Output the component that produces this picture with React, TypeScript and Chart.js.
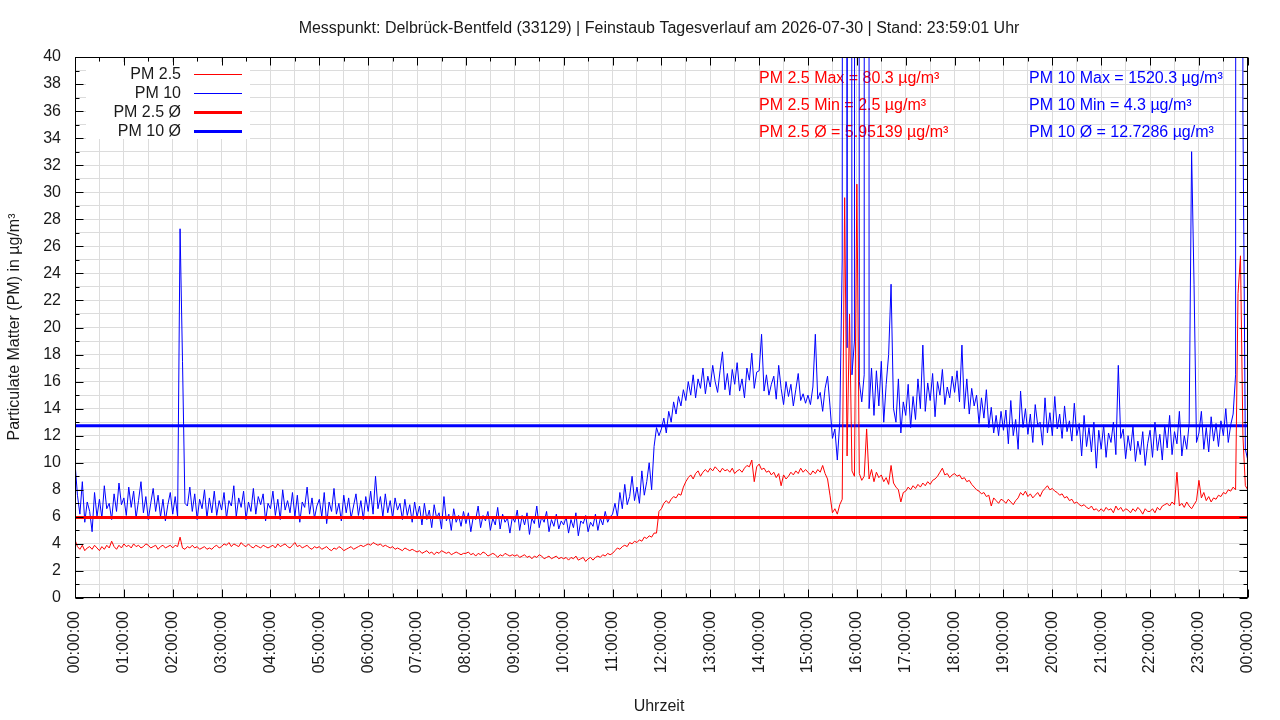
import React, { useEffect, useRef } from "react";
import { Chart, registerables } from "chart.js";

Chart.register(...registerables);

const FONT = '"Liberation Sans", Arial, sans-serif';
const TEXT = "#1a1a1a";
const GRID = "#dcdcdc";
const RED = "#ff0000";
const BLUE = "#0000ff";

const TITLE =
  "Messpunkt: Delbrück-Bentfeld (33129) | Feinstaub Tagesverlauf am 2026-07-30 | Stand: 23:59:01 Uhr";
const X_TITLE = "Uhrzeit";
const Y_TITLE = "Particulate Matter (PM) in µg/m³";

const SERIES_LABELS = ["PM 2.5", "PM 10", "PM 2.5 Ø", "PM 10 Ø"];
const PM25_AVG = 5.95139;
const PM10_AVG = 12.7286;
const PM25_STATS = ["PM 2.5 Max = 80.3 µg/m³", "PM 2.5 Min = 2.5 µg/m³", "PM 2.5 Ø = 5.95139 µg/m³"];
const PM10_STATS = ["PM 10 Max = 1520.3 µg/m³", "PM 10 Min = 4.3 µg/m³", "PM 10 Ø = 12.7286 µg/m³"];

const HOUR_LABELS = [
  "00:00:00", "01:00:00", "02:00:00", "03:00:00", "04:00:00", "05:00:00", "06:00:00",
  "07:00:00", "08:00:00", "09:00:00", "10:00:00", "11:00:00", "12:00:00", "13:00:00",
  "14:00:00", "15:00:00", "16:00:00", "17:00:00", "18:00:00", "19:00:00", "20:00:00",
  "21:00:00", "22:00:00", "23:00:00", "00:00:00",
];

// one reading every 3 minutes, 20 per hour, last value at 24:00
const STEP_MIN = 3;

const PM10 = [
  10.0, 7.6, 6.2, 8.6, 5.6, 7.1, 6.4, 4.9, 7.8, 6.0, 7.3, 5.9, 8.3, 6.6, 7.0, 5.8, 7.7, 6.4, 8.5, 6.9,
  7.4, 6.1, 8.2, 6.7, 7.9, 5.9, 7.2, 8.6, 6.3, 7.5, 5.8, 7.0, 8.1, 6.4, 7.6, 6.0, 7.3, 5.7, 6.9, 7.8,
  6.2, 7.5, 6.0, 27.3, 17.5, 7.0, 6.8, 8.2, 6.4, 7.7, 5.8, 7.3, 6.6, 8.0, 5.9, 7.4, 6.3, 7.9, 6.1, 7.2,
  6.5, 7.8, 5.9, 7.2, 6.8, 8.3, 6.0, 7.4, 6.7, 7.9, 5.8, 7.1, 6.4, 8.1, 6.2, 7.5, 6.9, 7.7, 5.7, 7.0,
  6.6, 7.9, 6.1, 7.3, 5.8, 8.0, 6.5, 7.2, 6.3, 7.8, 6.0, 7.6, 5.6, 7.1, 6.7, 8.2, 6.2, 7.4, 5.9, 6.8,
  7.3, 6.0, 7.8, 5.5, 7.1, 6.4, 8.1, 6.2, 7.0, 5.7, 7.6, 6.3, 7.4, 5.9, 6.8, 7.7, 6.1, 7.2, 5.8, 7.5,
  6.4, 7.9, 6.2, 9.0, 6.6, 7.5, 6.0, 7.7, 6.3, 7.2, 5.9, 7.4, 6.5, 7.0, 5.8, 7.3, 6.1, 6.9, 5.6, 7.1,
  6.0, 6.8, 5.4, 7.0, 5.8, 6.5, 5.2, 6.9, 5.9, 6.3, 5.1, 7.5, 5.7, 6.2, 5.0, 6.6, 5.6, 6.1, 5.3, 6.4,
  5.5, 6.3, 4.9, 6.0, 5.8, 6.8, 5.2, 6.1, 5.7, 6.4, 5.0, 5.9, 5.4, 6.7, 5.1, 6.2, 5.6, 5.9, 4.8, 6.0,
  5.6, 6.5, 5.0, 6.1, 5.4, 6.3, 4.7, 5.9, 5.5, 6.8, 5.2, 6.0, 5.6, 6.4, 4.9, 5.8, 5.3, 6.2, 5.1, 5.7,
  5.4, 6.0, 4.8, 5.8, 5.2, 6.3, 4.6, 5.7, 5.5, 6.1, 4.9, 5.6, 5.3, 6.2, 5.0, 5.9, 5.4, 6.4, 5.6, 6.0,
  6.2, 7.0, 6.0, 7.8, 6.6, 8.4, 6.9, 7.5, 9.0, 7.2, 8.2, 7.0, 9.4, 7.6, 8.6, 10.0, 8.0, 11.2, 12.6, 12.0,
  12.5, 13.3, 12.2, 13.8, 13.0, 14.5, 13.6, 14.9, 14.2, 15.4, 14.6, 16.0, 15.0, 16.5, 14.8, 16.2, 15.5, 17.0, 15.1, 16.4,
  15.6, 17.2, 16.0, 15.2, 16.8, 18.2, 15.4, 16.6, 15.0, 16.9, 15.8, 17.4, 15.3, 16.2, 14.8, 17.0, 16.1, 18.1, 15.5, 16.7,
  16.8, 19.5, 15.3, 16.5, 15.0, 15.8, 16.4, 14.7, 17.2, 15.5, 14.3, 16.0, 14.9, 15.8, 14.2, 15.4, 16.6, 14.6, 15.1, 14.4,
  15.0, 14.3, 15.6, 19.5, 14.7, 15.2, 13.8, 15.5, 16.4, 14.2, 11.8, 12.5, 10.2, 13.0, 25.0, 300, 18.5, 300, 16.5, 19.0,
  400, 16.0, 14.5, 16.5, 1520.3, 14.0, 17.0, 13.5, 16.8, 14.2, 17.5, 13.0, 15.8, 18.0, 23.2, 14.0, 13.0, 16.2, 12.2, 14.5,
  13.5, 15.8, 12.6, 14.9, 13.2, 16.2, 14.0, 18.7, 13.8, 15.9, 14.6, 16.6, 13.4, 16.0, 15.0, 16.9, 14.3, 15.6, 14.8, 16.4,
  15.2, 16.8, 14.5, 18.7, 14.0, 16.2, 13.6, 15.5, 14.2, 15.0, 12.9, 14.8, 13.3, 15.4, 12.6, 14.1, 12.2, 13.5, 12.0, 13.8,
  12.4, 13.9, 11.4, 14.6, 12.0, 13.2, 11.0, 15.3, 12.6, 14.0, 12.1, 13.6, 11.5, 14.3, 12.8, 13.0, 11.3, 14.8, 12.2, 13.7,
  12.0, 14.9, 12.5, 13.6, 11.8, 14.2, 12.3, 13.1, 11.6, 14.4, 12.0, 12.9, 10.5, 13.5, 11.2, 12.6, 10.8, 13.0, 9.6, 12.4,
  11.0, 12.8, 10.4, 12.2, 11.5, 13.0, 10.6, 17.2, 11.8, 12.5, 10.3, 12.0, 10.9, 12.7, 10.1, 11.6, 10.6, 12.3, 9.8, 11.4,
  12.4, 10.4, 13.0, 10.9, 12.1, 10.2, 12.8, 11.1, 13.5, 10.6, 12.3, 11.4, 13.8, 10.5, 12.0, 11.0, 12.9, 33.0, 23.2, 11.5,
  12.2, 13.8, 11.0, 12.6, 10.8, 13.4, 11.6, 12.9, 11.2, 13.1, 12.0, 14.0, 11.5, 12.8, 13.6, 16.5, 500, 300, 36.0, 11.0,
  10.2,
];

const PM25 = [
  4.3, 3.8, 3.6, 3.9, 3.5, 3.7, 3.8, 3.6, 3.9, 3.7, 3.5, 3.8, 3.6, 3.9, 3.7, 4.2, 3.8, 3.6, 3.9, 3.7,
  4.0, 3.8, 3.9, 3.7, 4.0, 3.8, 3.9, 3.7, 3.8, 4.0, 3.9, 3.7, 3.8, 3.9, 3.6, 3.8, 3.9, 3.7, 3.8, 3.9,
  3.7, 3.9, 3.8, 4.5, 3.7, 3.6, 3.8, 3.7, 3.9, 3.7, 3.8, 3.6, 3.7, 3.8, 3.6, 3.7, 3.6, 3.8, 3.9, 3.7,
  3.8, 4.0, 3.9, 4.1, 3.8, 4.0, 3.9, 3.8, 4.1, 3.9, 3.8, 4.0, 3.8, 3.7, 3.9, 3.8, 3.7, 3.9, 3.8, 3.7,
  3.8, 3.9, 3.7, 4.0, 3.8, 3.9, 4.0, 3.8, 3.7, 3.9, 4.1, 3.8, 3.9, 3.7, 3.8, 3.9, 3.7, 3.6, 3.8, 3.7,
  3.8, 3.6, 3.7, 3.8, 3.6, 3.5, 3.7, 3.6, 3.8, 3.7, 3.5, 3.6, 3.7, 3.8, 3.6, 3.7, 3.8, 3.9, 3.8, 3.9,
  4.0, 3.9, 4.1, 4.0, 3.9, 4.0, 3.8, 3.9, 3.8, 3.7, 3.8, 3.6, 3.7, 3.6, 3.5, 3.7, 3.6, 3.5, 3.6, 3.5,
  3.4, 3.5, 3.3, 3.4, 3.5, 3.3, 3.4, 3.2, 3.4, 3.3, 3.5, 3.4, 3.3, 3.4, 3.2, 3.3, 3.4, 3.3, 3.2, 3.3,
  3.3, 3.4, 3.2, 3.3, 3.1, 3.3, 3.2, 3.4, 3.3, 3.1, 3.2, 3.3, 3.2, 3.0, 3.2, 3.1, 3.3, 3.2, 3.1, 3.2,
  3.1, 3.2, 3.0, 3.1, 3.2, 3.0, 3.1, 2.9, 3.1, 3.0, 3.2, 3.1, 2.9, 3.0, 3.1, 2.9, 3.0, 3.1, 2.9, 3.0,
  2.9, 3.0, 2.8, 3.0, 2.9, 3.1, 2.8, 2.9, 3.0, 2.7, 2.9, 3.0, 2.8, 3.0, 3.1, 3.0, 3.2, 3.1, 3.3, 3.2,
  3.3, 3.5, 3.7, 3.6, 3.8, 3.9, 3.8, 4.1, 4.0, 4.2, 4.1, 4.3, 4.2, 4.5, 4.4, 4.6, 4.5, 4.8, 4.8, 6.4,
  6.6, 7.0, 7.2, 7.0, 7.3, 7.5, 7.4, 7.7, 7.6, 8.2, 8.6, 8.9, 9.1, 8.8, 9.2, 9.4, 9.0, 9.3, 9.5, 9.3,
  9.6, 9.4, 9.7, 9.5, 9.3, 9.6, 9.4, 9.5, 9.3, 9.6, 9.2, 9.4, 9.5, 9.3, 9.6, 9.8, 9.7, 10.2, 8.6, 9.7,
  9.9, 9.5, 9.6, 9.3, 9.4, 9.1, 9.3, 8.9, 9.2, 8.3, 9.1, 8.8, 9.0, 9.3, 9.1, 9.4, 9.2, 9.6, 9.3, 9.5,
  9.3, 9.1, 9.4, 9.2, 9.5, 9.3, 9.8, 9.2, 8.8, 7.6, 6.3, 6.6, 6.2, 6.9, 7.3, 29.6, 10.5, 21.0, 9.4, 9.0,
  30.6, 9.2, 8.7, 9.0, 12.5, 8.8, 9.5, 8.6, 9.3, 8.9, 9.1, 8.6, 8.9, 8.4, 9.8, 8.5, 8.2, 8.0, 7.1, 7.8,
  7.9, 8.2, 8.0, 8.3, 8.1, 8.4, 8.2, 8.5, 8.3, 8.6, 8.4, 8.7, 8.8, 9.0, 9.3, 9.6, 9.1, 9.2, 8.9, 9.1,
  9.2, 9.0, 9.1, 8.8, 8.9, 8.6, 8.7, 8.4, 8.2, 8.0, 7.9, 7.7, 7.8, 7.5, 7.6, 6.8, 7.4, 7.2, 7.0, 7.3,
  7.2, 7.0, 7.3, 7.1, 6.9, 7.2, 7.4, 7.8, 7.6, 7.9, 7.5, 7.7, 7.4, 7.6, 7.8, 7.5, 7.9, 8.1, 8.3, 8.0,
  8.1, 7.9, 7.8, 7.6, 7.7, 7.4, 7.5, 7.2, 7.3, 7.0, 7.1, 6.9, 6.8, 6.9, 6.7, 6.6, 6.8, 6.5, 6.6, 6.4,
  6.6, 6.4, 6.7, 6.5, 6.6, 6.3, 6.8, 6.5, 6.7, 6.4, 6.6, 6.5, 6.3, 6.6, 6.4, 6.7, 6.5, 6.2, 6.6, 6.4,
  6.4, 6.6, 6.3, 6.7, 6.5, 6.8, 6.9, 7.0, 6.8, 7.1, 6.9, 9.3, 6.8, 7.0, 6.7, 7.1, 6.8, 6.6, 6.9, 7.2,
  8.7, 7.4, 7.8, 7.2, 7.5, 7.1, 7.4, 7.3, 7.6, 7.5, 7.8, 7.7, 8.0, 7.9, 8.2, 8.0, 22.5, 25.3, 12.0, 8.3,
  8.0,
];

const DAY_MIN = 1440;

const toPoints = (values: number[]) => values.map((v, i) => ({ x: i * STEP_MIN, y: v }));
const flat = (v: number) => [
  { x: 0, y: v },
  { x: DAY_MIN, y: v },
];

// gnuplot look: mirrored inward ticks, framed plot, opaque key, free labels
const gnuplotFrame = {
  id: "gnuplotFrame",
  beforeDatasetsDraw(chart: any) {
    const ctx = chart.ctx;
    ctx.save();
    ctx.font = `16px ${FONT}`;
    ctx.textAlign = "left";
    ctx.textBaseline = "middle";
    ctx.fillStyle = RED;
    PM25_STATS.forEach((t, i) => ctx.fillText(t, 759, 79 + i * 27));
    ctx.fillStyle = BLUE;
    PM10_STATS.forEach((t, i) => ctx.fillText(t, 1029, 79 + i * 27));
    ctx.restore();
  },
  afterDatasetsDraw(chart: any) {
    const { ctx, chartArea: a, scales } = chart;
    const L = Math.round(a.left) + 0.5;
    const R = Math.round(a.right) - 0.5;
    const T = Math.round(a.top) + 0.5;
    const B = Math.round(a.bottom) - 0.5;
    ctx.save();

    // key
    ctx.fillStyle = "#ffffff";
    ctx.fillRect(86, 62, 164, 77);
    ctx.font = `16px ${FONT}`;
    ctx.textAlign = "right";
    ctx.textBaseline = "middle";
    chart.data.datasets.forEach((ds: any, i: number) => {
      const yy = 74.5 + i * 19;
      ctx.fillStyle = TEXT;
      ctx.fillText(ds.label, 181, yy);
      ctx.strokeStyle = ds.borderColor;
      ctx.lineWidth = ds.borderWidth;
      const ly = Math.round(74 + i * 19) + 0.5;
      ctx.beginPath();
      ctx.moveTo(194, ly);
      ctx.lineTo(242, ly);
      ctx.stroke();
    });

    // frame and ticks
    ctx.strokeStyle = "#000000";
    ctx.lineWidth = 1;
    ctx.strokeRect(L, T, R - L, B - T);
    ctx.beginPath();
    for (let m = 0; m <= DAY_MIN; m += 30) {
      const px = Math.round(scales.x.getPixelForValue(m)) + 0.5;
      const len = m % 60 === 0 ? 8 : 4;
      ctx.moveTo(px, B);
      ctx.lineTo(px, B - len);
      ctx.moveTo(px, T);
      ctx.lineTo(px, T + len);
    }
    for (let v = 0; v <= 40; v += 1) {
      const py = Math.round(scales.y.getPixelForValue(v)) + 0.5;
      const len = v % 2 === 0 ? 8 : 4;
      ctx.moveTo(L, py);
      ctx.lineTo(L + len, py);
      ctx.moveTo(R, py);
      ctx.lineTo(R - len, py);
    }
    ctx.stroke();
    ctx.restore();
  },
  afterDraw(chart: any) {
    const ctx = chart.ctx;
    ctx.save();
    ctx.font = `16px ${FONT}`;
    ctx.fillStyle = TEXT;
    ctx.textAlign = "center";
    ctx.textBaseline = "middle";
    ctx.fillText(TITLE, 659, 29);
    ctx.fillText(X_TITLE, 659, 707);
    ctx.translate(15, 327);
    ctx.rotate(-Math.PI / 2);
    ctx.fillText(Y_TITLE, 0, 0);
    ctx.restore();
  },
};

export default function App() {
  const canvasRef = useRef<HTMLCanvasElement | null>(null);

  useEffect(() => {
    if (!canvasRef.current) return;
    const context = canvasRef.current.getContext("2d");
    if (!context) return;

    const tickFont = { family: FONT, size: 16 };

    const chart = new Chart(context, {
      type: "line",
      data: {
        datasets: [
          { label: SERIES_LABELS[0], data: toPoints(PM25), borderColor: RED, borderWidth: 1, order: 1 },
          { label: SERIES_LABELS[1], data: toPoints(PM10), borderColor: BLUE, borderWidth: 1, order: 3 },
          { label: SERIES_LABELS[2], data: flat(PM25_AVG), borderColor: RED, borderWidth: 3, order: 0 },
          { label: SERIES_LABELS[3], data: flat(PM10_AVG), borderColor: BLUE, borderWidth: 3, order: 2 },
        ],
      },
      options: {
        animation: false,
        responsive: true,
        maintainAspectRatio: false,
        parsing: false,
        elements: {
          point: { radius: 0 },
          line: { tension: 0, fill: false },
        },
        layout: { padding: { left: 0, top: 57, right: 26.5, bottom: 0 } },
        plugins: {
          legend: { display: false },
          title: { display: false },
          tooltip: { enabled: false },
        },
        scales: {
          x: {
            type: "linear",
            min: 0,
            max: DAY_MIN,
            afterFit: (s: any) => {
              s.height = 122;
            },
            grid: { color: GRID, drawTicks: false },
            border: { display: false },
            ticks: {
              stepSize: 30,
              maxTicksLimit: 100,
              autoSkip: false,
              minRotation: 90,
              maxRotation: 90,
              padding: 13,
              color: TEXT,
              font: tickFont,
              callback: (v: any) => (Number(v) % 60 === 0 ? HOUR_LABELS[Number(v) / 60] : ""),
            },
          },
          y: {
            min: 0,
            max: 40,
            afterFit: (s: any) => {
              s.width = 75;
            },
            grid: { color: GRID, drawTicks: false },
            border: { display: false },
            ticks: {
              stepSize: 1,
              maxTicksLimit: 100,
              autoSkip: false,
              padding: 14,
              color: TEXT,
              font: tickFont,
              callback: (v: any) => (Number(v) % 2 === 0 ? String(v) : ""),
            },
          },
        },
      },
      plugins: [gnuplotFrame],
    } as any);

    return () => {
      chart.destroy();
    };
  }, []);

  return (
    <div style={{ position: "absolute", left: 0, top: 0, width: 1280, height: 720, background: "#ffffff" }}>
      <canvas ref={canvasRef} />
    </div>
  );
}
